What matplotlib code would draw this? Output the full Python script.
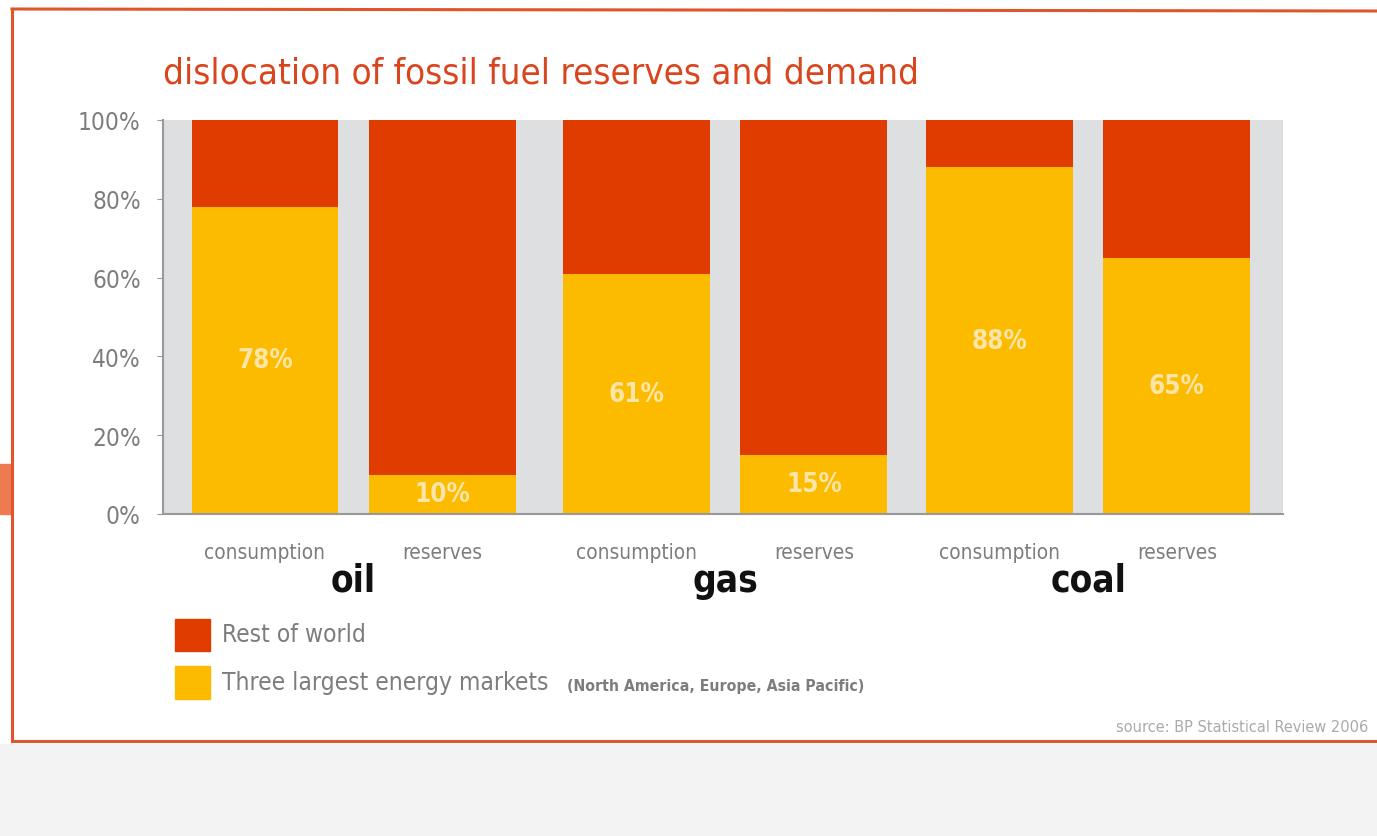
import matplotlib
matplotlib.use("Agg")
import matplotlib.pyplot as plt
from matplotlib.patches import Rectangle
from matplotlib.lines import Line2D

# data
fuels = ["oil", "gas", "coal"]
kinds = ["consumption", "reserves"] * 3
three_largest = [78, 10, 61, 15, 88, 65]
rest_of_world = [100 - v for v in three_largest]
pos = [0, 1, 2.1, 3.1, 4.15, 5.15]
yticks = [0, 20, 40, 60, 80, 100]

RED = "#e03c00"; YEL = "#fdbb00"; GREY = "#7d7d7d"; FRAME = "#e0552b"
FONT = dict(family="DejaVu Sans", fontstretch="condensed")
W, H = 1377, 837

fig = plt.figure(figsize=(13.77, 8.37), dpi=100)
fig.patch.set_facecolor("white")
r = fig.canvas.get_renderer()

def fit(t, px):
    # shrink/grow font so the text spans about px pixels
    w = t.get_window_extent(renderer=r).width
    t.set_fontsize(t.get_fontsize() * px / w)
    return t.get_fontsize()

# slide frame + grey strip below
fig.patches.append(Rectangle((0, 0), 1, 1 - 745/H, transform=fig.transFigure, color="#f3f3f3", zorder=0))
fig.patches.append(Rectangle((0, 1 - 515/H), 12/W, 50/H, transform=fig.transFigure, color="#f07a50", zorder=1))
for xs, ys in [([12/W, 1], [1-10/H, 1-12/H]), ([12/W, 12/W], [1-10/H, 1-742/H]),
               ([12/W, 1], [1-742/H, 1-742/H])]:
    fig.lines.append(Line2D(xs, ys, transform=fig.transFigure, color=FRAME, lw=2.2, zorder=2))

ax = fig.add_axes([163/W, 1-515/H, 1120/W, 394/H])
ax.set_facecolor("#dedfe0")
ax.bar(pos, three_largest, width=0.83, color=YEL, zorder=2)
ax.bar(pos, rest_of_world, bottom=three_largest, width=0.83, color=RED, zorder=2)
lab = []
for x, v in zip(pos, three_largest):
    lab.append(ax.text(x, v/2, f"{v}%", ha="center", va="center", color="#fbe6a8", fontsize=15,
                       fontweight="bold", **FONT))
fs = fit(lab[0], 56)
for t in lab:
    t.set_fontsize(fs)

ax.set_xlim(-0.576, 5.75); ax.set_ylim(0, 100)
ax.set_yticks(yticks)
ax.set_yticklabels([f"{t}%" for t in yticks], color=GREY, fontsize=15, **FONT)
ax.tick_params(axis="y", length=4, color="#999999", pad=12)
yl = ax.get_yticklabels()
fs = fit(yl[-1], 62)
for t in yl:
    t.set_fontsize(fs)
ax.set_xticks(pos)
ax.set_xticklabels(kinds, color=GREY, fontsize=14, **FONT)
ax.tick_params(axis="x", length=0, pad=20)
xl = ax.get_xticklabels()
fs = fit(xl[0], 122)
for t in xl:
    t.set_fontsize(fs)
for s in ["top", "right"]:
    ax.spines[s].set_visible(False)
for s in ["left", "bottom"]:
    ax.spines[s].set_color("#999999"); ax.spines[s].set_linewidth(1.5)

fl = []
for i, f in enumerate(fuels):
    c = (pos[2*i] + pos[2*i+1]) / 2
    fl.append(ax.text(c, -16.8, f, ha="center", va="center", fontsize=30, fontweight="bold",
                      color="#111111", **FONT))
fs = fit(fl[2], 76)
for t in fl:
    t.set_fontsize(fs)

t = fig.text(163/W, 1-73/H, "dislocation of fossil fuel reserves and demand", color="#d9461e",
             fontsize=28, va="center", ha="left", **FONT)
fit(t, 752)

# legend
fig.patches.append(Rectangle((175/W, 1-652/H), 35/W, 32/H, transform=fig.transFigure, color=RED))
fig.patches.append(Rectangle((175/W, 1-700/H), 35/W, 33/H, transform=fig.transFigure, color=YEL))
t1 = fig.text(222/W, 1-635/H, "Rest of world", color=GREY, fontsize=17, va="center", **FONT)
t2 = fig.text(222/W, 1-683/H, "Three largest energy markets", color=GREY, fontsize=17,
              va="center", **FONT)
t1.set_fontsize(fit(t2, 326))
t = fig.text(567/W, 1-686/H, "(North America, Europe, Asia Pacific)", color=GREY, fontsize=10.5,
             fontweight="bold", va="center", **FONT)
fit(t, 298)
t = fig.text(1368/W, 1-728/H, "source: BP Statistical Review 2006", color="#aaaaaa", fontsize=8.5,
             ha="right", va="center", **FONT)
fit(t, 253)

fig.savefig("out.png", dpi=100)
